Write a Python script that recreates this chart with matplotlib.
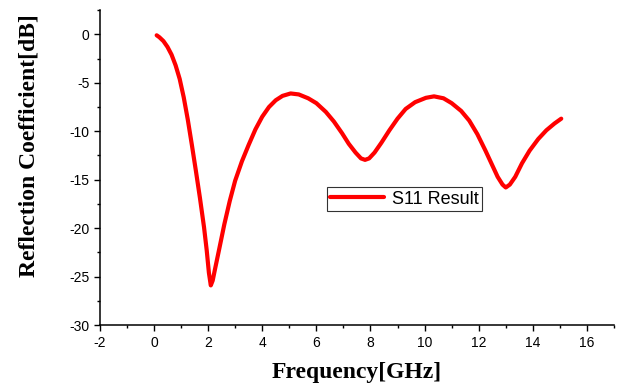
# S11 reflection coefficient of the antenna

import matplotlib.pyplot as plt
from matplotlib.ticker import MultipleLocator


freq = [0.1, 0.2, 0.35, 0.5, 0.65, 0.8, 0.95, 1.1, 1.25, 1.4, 1.55, 1.7,
        1.85, 1.95, 2.03, 2.1, 2.17, 2.25, 2.4, 2.6, 2.8, 3.0, 3.25, 3.5,
        3.75, 4.0, 4.25, 4.5, 4.75, 5.05, 5.35, 5.7, 6.0, 6.35, 6.65, 6.95,
        7.2, 7.45, 7.65, 7.8, 7.95, 8.15, 8.4, 8.7, 9.0, 9.3, 9.65, 10.05,
        10.35, 10.7, 11.0, 11.35, 11.65, 11.95, 12.25, 12.5, 12.7, 12.88,
        13.0, 13.15, 13.35, 13.6, 13.88, 14.2, 14.5, 14.8, 15.05]
s11 = [-0.1, -0.3, -0.7, -1.3, -2.1, -3.2, -4.6, -6.5, -8.8, -11.4, -14.1,
       -16.9, -19.9, -22.3, -24.6, -25.9, -25.4, -24.3, -22.3, -19.6, -17.2,
       -15.1, -13.1, -11.4, -9.8, -8.5, -7.5, -6.8, -6.35, -6.1, -6.2, -6.6,
       -7.1, -8.0, -9.0, -10.2, -11.3, -12.2, -12.8, -12.95, -12.8, -12.2,
       -11.2, -9.9, -8.7, -7.7, -7.0, -6.55, -6.4, -6.6, -7.1, -7.9, -8.9,
       -10.3, -12.0, -13.5, -14.7, -15.5, -15.8, -15.5, -14.7, -13.3, -12.0,
       -10.8, -9.9, -9.2, -8.7]

x_ticks = [-2, 0, 2, 4, 6, 8, 10, 12, 14, 16]
y_ticks = [0, -5, -10, -15, -20, -25, -30]

plt.rcParams['font.family'] = ['Liberation Sans', 'DejaVu Sans']
plt.rcParams['axes.unicode_minus'] = False

fig = plt.figure(figsize=(6.24, 3.88), dpi=100)
ax = fig.add_axes([0.160, 0.162, 0.824, 0.812])

ax.plot(freq, s11, color='#ff0000', linewidth=3.0, label='S11 Result',
        solid_joinstyle='round', solid_capstyle='round')

ax.set_xlim(-2, 17)
ax.set_ylim(-30, 2.5)
ax.set_xticks(x_ticks)
ax.set_yticks(y_ticks)
ax.xaxis.set_minor_locator(MultipleLocator(1))
ax.yaxis.set_minor_locator(MultipleLocator(2.5))
ax.tick_params(which='major', direction='out', length=4, width=1,
               labelsize=10)
ax.tick_params(which='minor', direction='out', length=2.5, width=1)

for side in ['top', 'right']:
    ax.spines[side].set_visible(False)
for side in ['left', 'bottom']:
    ax.spines[side].set_linewidth(1.1)

ax.set_xlabel('Frequency[GHz]', fontsize=17, fontweight='bold',
              family='Liberation Serif', labelpad=9)
ax.set_ylabel('Reflection Coefficient[dB]', fontsize=17, fontweight='bold',
              family='Liberation Serif')
ax.yaxis.set_label_coords(-0.118, 0.57)

leg = ax.legend(loc='center', bbox_to_anchor=(0.592, 0.40), fontsize=13,
                frameon=True, fancybox=False, edgecolor='black',
                handlelength=3.0, borderpad=0.2, handletextpad=0.4,
                borderaxespad=0)
leg.get_frame().set_linewidth(0.8)

plt.savefig('out.png', dpi=100)
print("Saved image to out.png")
